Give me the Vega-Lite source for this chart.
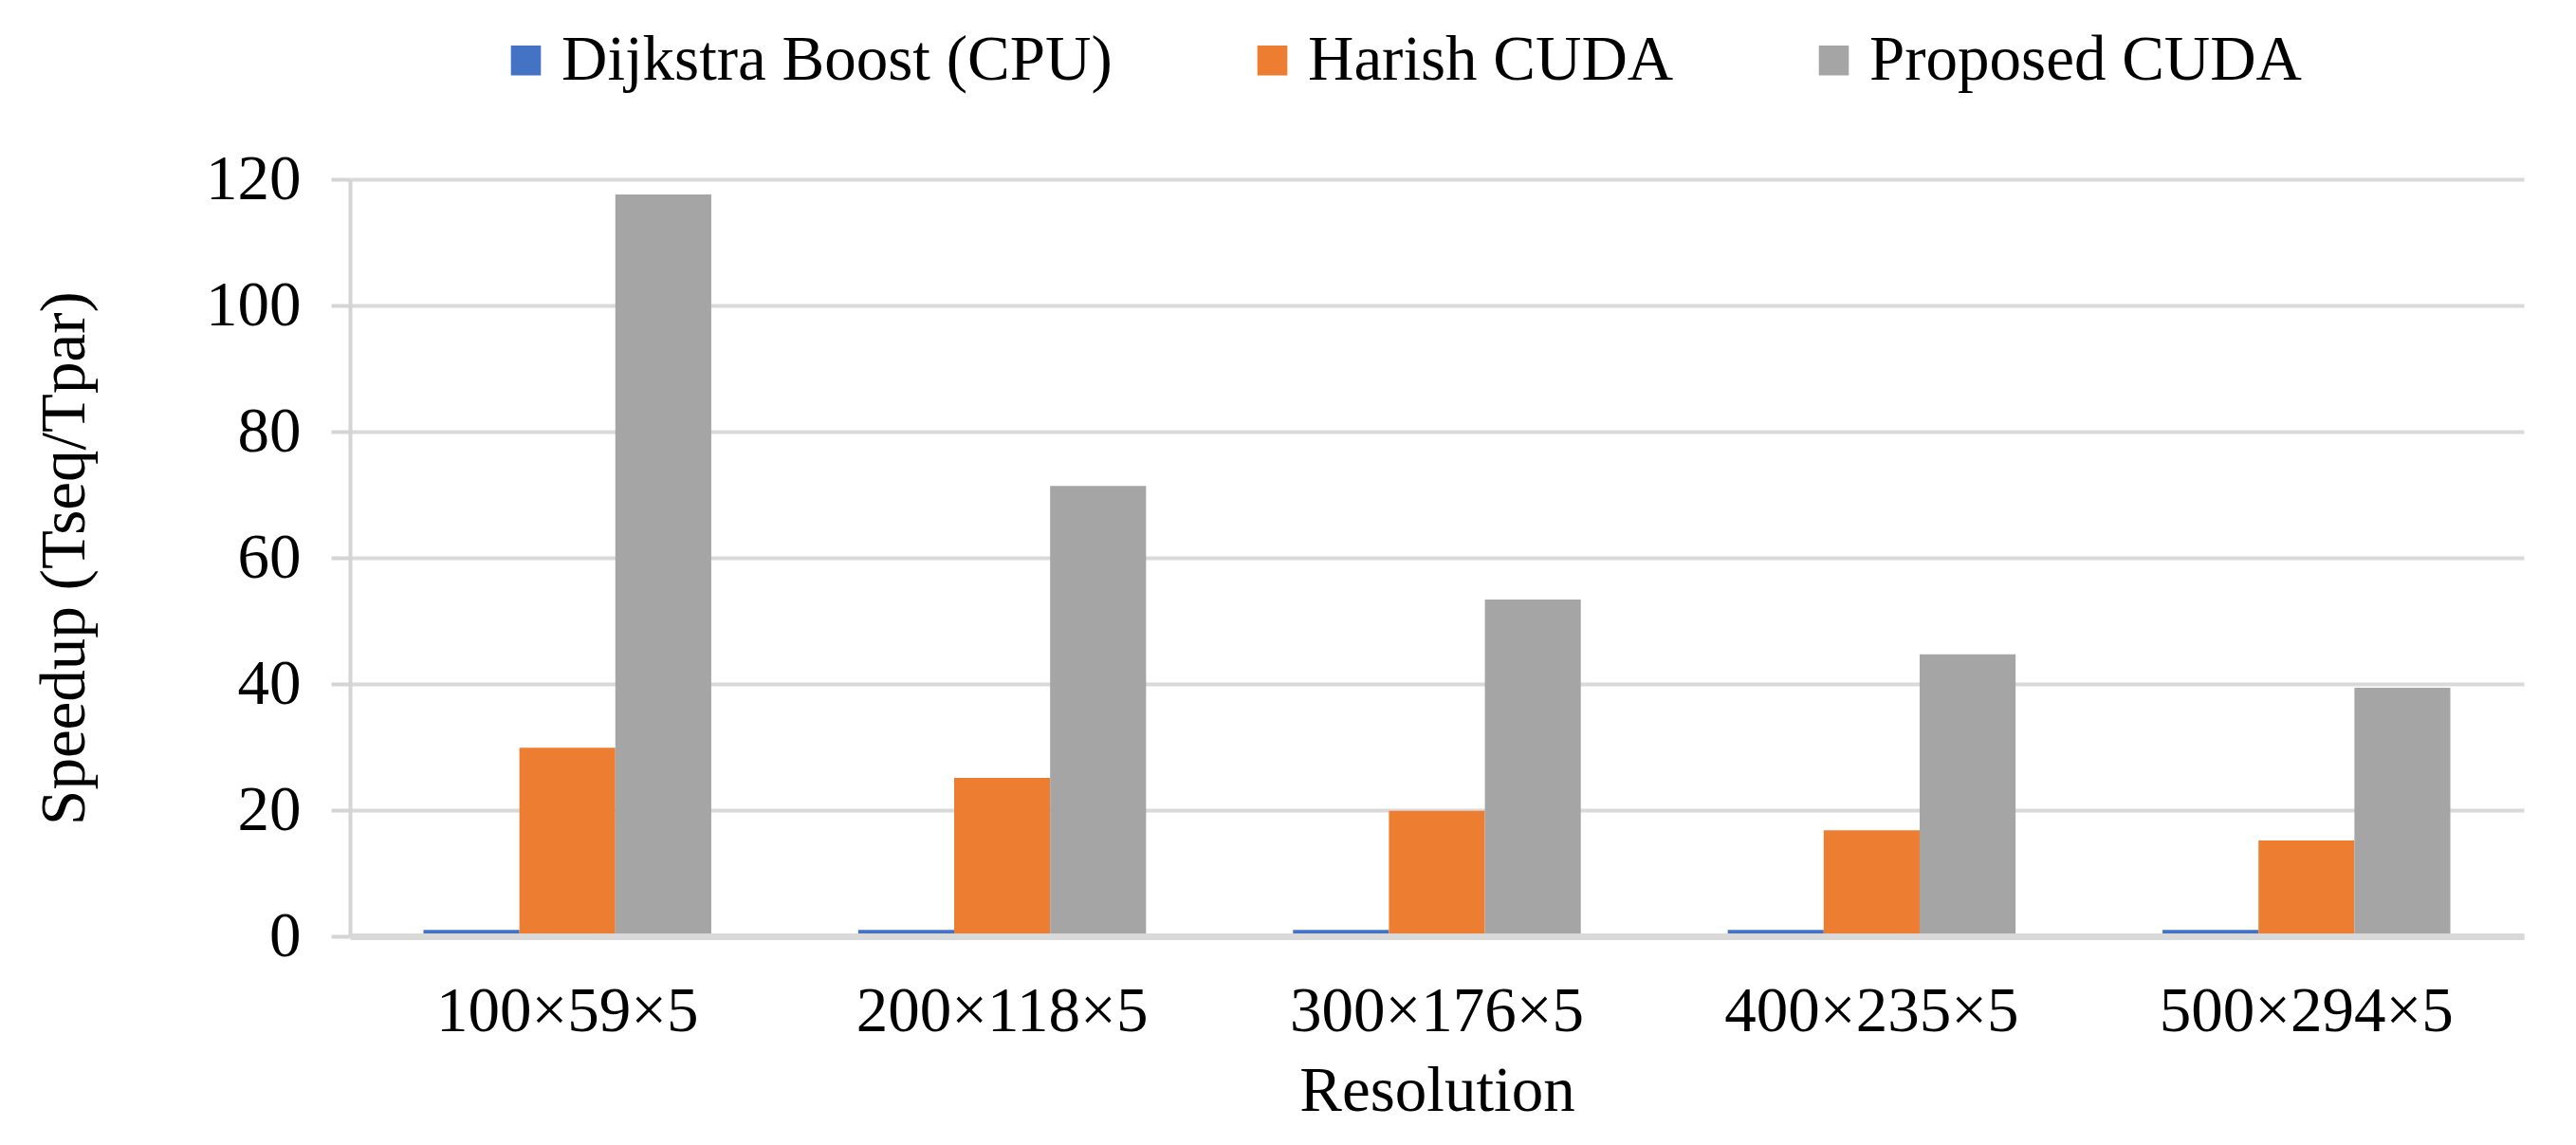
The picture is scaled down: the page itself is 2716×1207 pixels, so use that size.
{
  "$schema": "https://vega.github.io/schema/vega-lite/v6.json",
  "width": 2292,
  "height": 798,
  "autosize": "none",
  "padding": {"left": 369, "top": 189, "right": 55, "bottom": 220},
  "background": "white",
  "config": {"view": {"stroke": null}, "font": "Liberation Serif"},
  "data": {
    "values": [
      {"resolution": "100×59×5", "method": "Dijkstra Boost (CPU)", "speedup": 1},
      {"resolution": "100×59×5", "method": "Harish CUDA", "speedup": 29.9},
      {"resolution": "100×59×5", "method": "Proposed CUDA", "speedup": 117.6},
      {"resolution": "200×118×5", "method": "Dijkstra Boost (CPU)", "speedup": 1},
      {"resolution": "200×118×5", "method": "Harish CUDA", "speedup": 25.1},
      {"resolution": "200×118×5", "method": "Proposed CUDA", "speedup": 71.4},
      {"resolution": "300×176×5", "method": "Dijkstra Boost (CPU)", "speedup": 1},
      {"resolution": "300×176×5", "method": "Harish CUDA", "speedup": 19.9},
      {"resolution": "300×176×5", "method": "Proposed CUDA", "speedup": 53.4},
      {"resolution": "400×235×5", "method": "Dijkstra Boost (CPU)", "speedup": 1},
      {"resolution": "400×235×5", "method": "Harish CUDA", "speedup": 16.8},
      {"resolution": "400×235×5", "method": "Proposed CUDA", "speedup": 44.7},
      {"resolution": "500×294×5", "method": "Dijkstra Boost (CPU)", "speedup": 1},
      {"resolution": "500×294×5", "method": "Harish CUDA", "speedup": 15.2},
      {"resolution": "500×294×5", "method": "Proposed CUDA", "speedup": 39.4}
    ]
  },
  "mark": {"type": "bar"},
  "encoding": {
    "x": {
      "field": "resolution",
      "type": "nominal",
      "sort": ["100×59×5", "200×118×5", "300×176×5", "400×235×5", "500×294×5"],
      "scale": {"paddingInner": 0.338, "paddingOuter": 0.169},
      "axis": {
        "title": "Resolution",
        "labelAngle": 0,
        "labelLimit": 0,
        "ticks": false,
        "zindex": 1,
        "domainColor": "#d9d9d9",
        "domainWidth": 7,
        "labelFont": "Liberation Serif",
        "labelFontSize": 67,
        "labelColor": "black",
        "labelPadding": 46,
        "titleFont": "Liberation Serif",
        "titleFontSize": 67,
        "titleFontWeight": "normal",
        "titleColor": "black",
        "titlePadding": 18
      }
    },
    "xOffset": {
      "field": "method",
      "type": "nominal",
      "sort": ["Dijkstra Boost (CPU)", "Harish CUDA", "Proposed CUDA"],
      "scale": {"paddingInner": 0, "paddingOuter": 0}
    },
    "y": {
      "field": "speedup",
      "type": "quantitative",
      "scale": {"domain": [0, 120], "nice": false},
      "axis": {
        "title": "Speedup (Tseq/Tpar)",
        "values": [0, 20, 40, 60, 80, 100, 120],
        "grid": true,
        "gridColor": "#d9d9d9",
        "gridWidth": 4,
        "domain": true,
        "domainColor": "#d4d4d4",
        "domainWidth": 4,
        "ticks": true,
        "tickColor": "#d4d4d4",
        "tickWidth": 4,
        "tickSize": 20,
        "labelFont": "Liberation Serif",
        "labelFontSize": 67,
        "labelColor": "black",
        "labelPadding": 32,
        "titleFont": "Liberation Serif",
        "titleFontSize": 67,
        "titleFontWeight": "normal",
        "titleColor": "black",
        "titlePadding": 114
      }
    },
    "color": {
      "field": "method",
      "type": "nominal",
      "sort": ["Dijkstra Boost (CPU)", "Harish CUDA", "Proposed CUDA"],
      "scale": {
        "domain": ["Dijkstra Boost (CPU)", "Harish CUDA", "Proposed CUDA"],
        "range": ["#4472C4", "#ED7D31", "#A5A5A5"]
      },
      "legend": {
        "title": null,
        "orient": "none",
        "direction": "horizontal",
        "legendX": 152,
        "legendY": -159,
        "padding": 0,
        "symbolType": "square",
        "symbolSize": 1000,
        "symbolStrokeWidth": 0,
        "labelFont": "Liberation Serif",
        "labelFontSize": 67,
        "labelColor": "black",
        "labelOffset": 4,
        "labelLimit": 0,
        "columnPadding": 135
      }
    }
  }
}
